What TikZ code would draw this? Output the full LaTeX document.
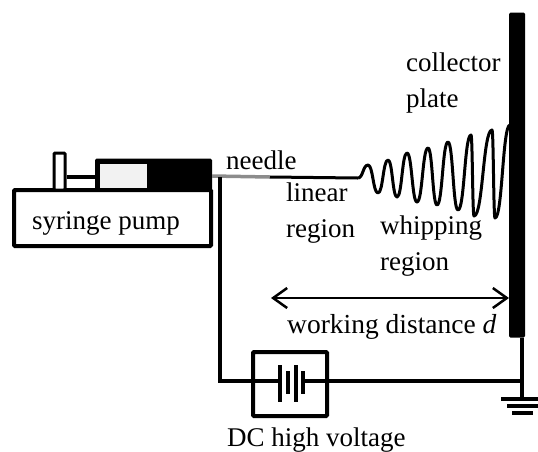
\documentclass[tikz,border=0pt]{standalone}
\usepackage{fontspec}
\usetikzlibrary{arrows.meta}
\setmainfont{Liberation Serif}
\begin{document}
\begin{tikzpicture}[
    x=1pt, y=-1pt,
    frame/.style={draw, line width=4pt, rounded corners=1pt, inner sep=0pt, fill=white},
    solid block/.style={fill=black, rounded corners=1.5pt, inner sep=0pt},
    wire/.style={line width=4pt},
    cell/.style={line width=4pt},
    label/.style={inner sep=0pt, anchor=base west, align=left, font=\fontsize{27}{36}\selectfont}
]
\useasboundingbox (0,0) rectangle (538,451);

% pump and syringe
\node[frame, minimum width=197pt, minimum height=56pt] (pump) at (112.5,218) {};
\node[frame, minimum width=11pt, minimum height=37pt, line width=3pt] (plunger) at (59.5,171.5) {};
\node[solid block, minimum width=117pt, minimum height=32pt] (barrel) at (153.5,174.5) {};
\node[fill=black!5, minimum width=47pt, minimum height=24pt, inner sep=0pt] (fluid) at (123,176) {};
\draw[wire] (plunger.east |- 0,177) -- (barrel.west |- 0,177);
\node[label] (pumplabel) at (32,229) {syringe pump};

% needle and jet
\coordinate (needletip) at (270,177);
\coordinate (jetstart) at (358,178);
\draw[line width=3.5pt, draw=black!45] (barrel.east |- 0,176) -- (needletip);
\draw[line width=3pt] (needletip) -- (jetstart);
\draw[line width=3pt, line join=round] (jetstart)
    foreach \x/\y [remember=\x as \px (initially 358), remember=\y as \py (initially 178)] in
    {368/165, 378/193, 388/160, 397/197, 407/153, 417/202, 428/148, 437/205,
     448/142, 458/210, 471/135, 474/216, 492/130, 495/218, 510/125}
    { .. controls ({(\px+\x)/2},\py) and ({(\px+\x)/2},\y) .. (\x,\y) };

% collector plate
\node[solid block, minimum width=16pt, minimum height=325pt] (plate) at (517,175) {};

% wiring
\node[frame, minimum width=74pt, minimum height=64pt, fill=none] (supply) at (290,384) {};
\coordinate (needlejoint) at (220,177);
\coordinate (leftcorner) at (220,381);
\coordinate (cellleft) at (280,381);
\coordinate (cellright) at (303,381);
\coordinate (rightcorner) at (522,381);
\coordinate (ground) at (522,399);
\draw[wire, line join=miter] (needlejoint) -- (leftcorner) -- (cellleft);
\draw[wire] (cellright) -- (rightcorner);
\draw[wire] (plate.south -| ground) -- (ground);

% battery
\draw[cell] (280,365) -- (280,402);
\draw[cell] (288,371) -- (288,394);
\draw[cell] (296,365) -- (296,402);
\draw[cell] (303,371) -- (303,394);

% ground
\draw[wire] (501,399) -- (538,399);
\draw[wire] (507,406) -- (538,406);
\draw[wire] (512,413) -- (533,413);

% working distance
\coordinate (gapleft) at (271,298);
\coordinate (gapright) at (509,298);
\draw[<->, >={Straight Barb[length=14pt,width=20pt]}, line width=2.5pt] (gapleft) -- (gapright);

\node[label] (needlelabel) at (226,169) {needle};
\node[label] (linearlabel) at (286,237) {linear\\region};
\node[label] (whiplabel) at (380,270) {whipping\\region};
\node[label] (platelabel) at (406,107) {collector\\plate};
\node[label, font=\fontsize{27.5}{34}\selectfont] (gaplabel) at (287,333) {working distance \textit{d}};
\node[label] (supplylabel) at (227,446) {DC high voltage};
\end{tikzpicture}
\end{document}
